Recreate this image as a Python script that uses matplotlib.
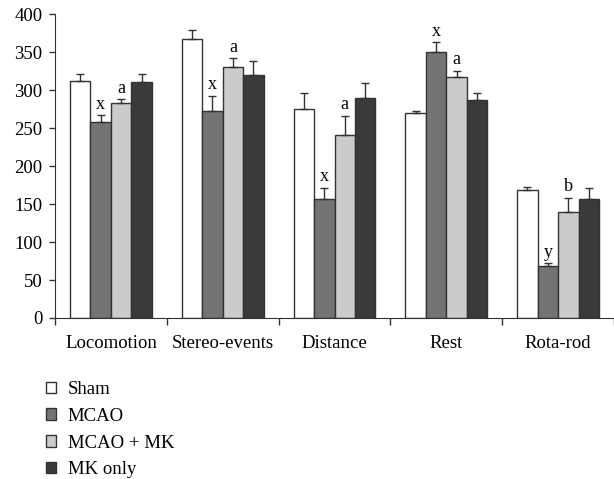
import matplotlib.pyplot as plt
import numpy as np

plt.rcParams['font.family'] = ['Liberation Serif', 'DejaVu Serif']

categories = ['Locomotion', 'Stereo-events', 'Distance', 'Rest', 'Rota-rod']
groups = ['Sham', 'MCAO', 'MCAO + MK', 'MK only']

# mean values per group (one list per group, in category order)
sham = [312, 367, 275, 270, 169]
mcao = [258, 272, 157, 351, 69]
mcao_mk = [283, 331, 241, 318, 140]
mk_only = [311, 320, 290, 287, 157]

# upper error bars
sham_err = [10, 12, 22, 2, 4]
mcao_err = [9, 21, 14, 12, 3]
mcao_mk_err = [5, 11, 25, 7, 18]
mk_only_err = [11, 19, 20, 9, 14]

# significance letters on MCAO and MCAO + MK bars
mcao_marks = ['x', 'x', 'x', 'x', 'y']
mcao_mk_marks = ['a', 'a', 'a', 'a', 'b']

colors = ['#ffffff', '#747474', '#cbcbcb', '#393b3a']
edge = '#333333'

values = [sham, mcao, mcao_mk, mk_only]
errors = [sham_err, mcao_err, mcao_mk_err, mk_only_err]

fig = plt.figure(figsize=(6.14, 4.79), dpi=100)
ax = fig.add_axes([55 / 614, 1 - 318 / 479, 1 - 55 / 614, (318 - 14.3) / 479])

x = np.arange(len(categories))
w = 0.183
bars = []
for i in range(4):
    pos = x + (i - 1.5) * w
    b = ax.bar(pos, values[i], width=w, color=colors[i], edgecolor=edge,
               linewidth=1.0, label=groups[i], zorder=2)
    ax.errorbar(pos, values[i], yerr=[np.zeros(len(x)), errors[i]], fmt='none',
                ecolor=edge, elinewidth=1.0, capsize=3, capthick=1.0, zorder=3)
    bars.append(b)

for j in range(len(x)):
    ax.annotate(mcao_marks[j], (x[j] - 0.5 * w, mcao[j] + mcao_err[j]),
                xytext=(0, 2), textcoords='offset points', ha='center', va='bottom',
                fontsize=13)
    ax.annotate(mcao_mk_marks[j], (x[j] + 0.5 * w, mcao_mk[j] + mcao_mk_err[j]),
                xytext=(0, 2), textcoords='offset points', ha='center', va='bottom',
                fontsize=13)

ax.set_ylim(0, 400)
ax.set_xlim(-0.5, -0.5 + 559 / 113)
ax.set_yticks(range(0, 401, 50))
ax.set_xticks(np.arange(-0.5, 5, 1.0))
ax.set_xticklabels([])
ax.set_xticks(x, minor=True)
ax.set_xticklabels(categories, minor=True)
ax.tick_params(axis='x', which='minor', length=0, pad=12, labelsize=13.5)
ax.tick_params(axis='x', which='major', length=5, width=1.0, color=edge, direction='out')
ax.tick_params(axis='y', length=4, width=1.0, color=edge, labelsize=13.5, pad=5)
ax.spines['top'].set_visible(False)
ax.spines['right'].set_visible(False)
ax.spines['left'].set_color(edge)
ax.spines['bottom'].set_color(edge)

fig.legend(handles=bars, labels=groups, loc='upper left',
           bbox_to_anchor=(46 / 614, 1 - 381 / 479), frameon=False, fontsize=13.5,
           borderaxespad=0, borderpad=0,
           handlelength=0.55, handleheight=0.55, handletextpad=0.6, labelspacing=0.52)

fig.savefig('out.png', dpi=100)
